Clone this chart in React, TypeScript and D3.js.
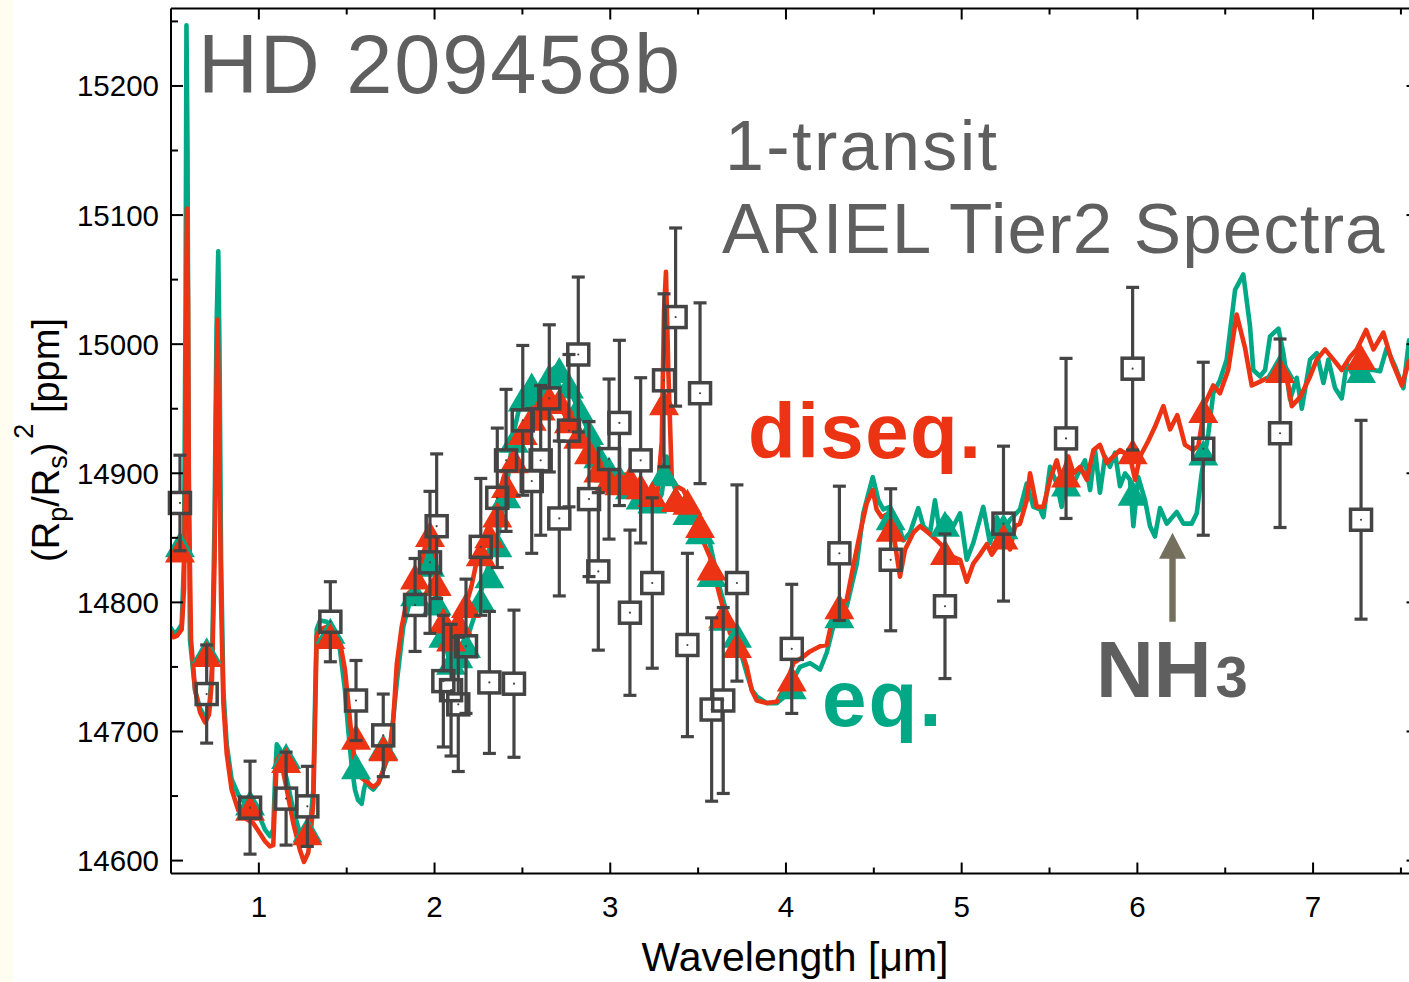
import React from "react";
import * as d3 from "d3";

// Canvas and plot frame
const WIDTH = 1409;
const HEIGHT = 982;
const PLOT = { left: 171, right: 1418.5, top: 8.5, bottom: 873.5 };

const X_DOMAIN: [number, number] = [0.5, 7.6];
const Y_DOMAIN: [number, number] = [14590, 15260];

const xMajorTicks = [1, 2, 3, 4, 5, 6, 7];
const xMinorTicks = [1.5, 2.5, 3.5, 4.5, 5.5, 6.5, 7.5];
const yMajorTicks = [14600, 14700, 14800, 14900, 15000, 15100, 15200];
const yMinorTicks = [14650, 14750, 14850, 14950, 15050, 15150, 15250];

// Simulated 1-transit ARIEL Tier 2 observation: wavelength [um], depth [ppm], 1-sigma [ppm]
const obsWave = [
  0.551, 0.703, 0.95, 1.155, 1.276, 1.407, 1.553, 1.708, 1.889, 1.974, 2.012, 2.05, 2.094,
  2.135, 2.179, 2.263, 2.312, 2.357, 2.407, 2.452, 2.502, 2.553, 2.604, 2.653, 2.71, 2.765,
  2.818, 2.879, 2.932, 2.993, 3.052, 3.112, 3.173, 3.239, 3.306, 3.372, 3.439, 3.511, 3.577,
  3.643, 3.721, 4.033, 4.304, 4.596, 4.905, 5.238, 5.594, 5.973, 6.375, 6.812, 7.273,
];
const obsDepth = [
  14877, 14729, 14641, 14648, 14642, 14785, 14724, 14697, 14798, 14831, 14859, 14739, 14732,
  14721, 14766, 14843, 14738, 14881, 14910, 14737, 14941, 14894, 14910, 14958, 14865, 14933,
  14992, 14880, 14824, 14911, 14939, 14792, 14910, 14815, 14972, 15021, 14767, 14962, 14717,
  14724, 14815, 14764, 14838, 14833, 14797, 14861, 14927, 14981, 14919, 14931, 14864,
];
const obsError = [
  37, 38, 36, 36, 31, 31, 31, 32, 36, 55, 56, 51, 51, 52, 52, 53, 55, 54, 55, 57, 58, 56, 58,
  57, 60, 59, 60, 60, 61, 62, 64, 64, 64, 66, 67, 69, 71, 70, 71, 72, 76, 50, 52, 55, 56, 60,
  62, 63, 67, 73, 77,
];

// Models binned onto the observation grid
const eqBinned = [
  14845, 14763, 14645, 14681, 14624, 14778, 14673, 14688, 14807, 14830, 14800, 14775, 14754,
  14759, 14767, 14802, 14821, 14845, 14883, 14926, 14958, 14968, 14963, 14975, 14980, 14968,
  14951, 14932, 14914, 14903, 14897, 14890, 14882, 14879, 14900, 14880, 14870, 14855, 14822,
  14788, 14775, 14735, 14790, 14866, 14861, 14859, 14892, 14885, 14916, 14983, 14980,
];
const diseqBinned = [
  14841, 14760, 14641, 14678, 14622, 14774, 14696, 14687, 14820, 14853, 14815, 14786, 14772,
  14784, 14798, 14838, 14852, 14868, 14891, 14910, 14932, 14943, 14951, 14958, 14956, 14941,
  14929, 14917, 14903, 14895, 14893, 14896, 14890, 14884, 14955, 14880, 14878, 14860, 14827,
  14790, 14767, 14741, 14797, 14857, 14839, 14851, 14899, 14917, 14949, 14980, 14990,
];

// High-resolution model spectra: [wavelength um, depth ppm]
const eqSpectrum: [number, number][] = [
  [0.5, 14780], [0.513, 14777], [0.534, 14777], [0.561, 14783], [0.574, 14833], [0.583, 15034],
  [0.588, 15247], [0.594, 15151], [0.6, 14918], [0.608, 14771], [0.637, 14732], [0.665, 14718],
  [0.694, 14711], [0.716, 14715], [0.733, 14748], [0.748, 14864], [0.759, 15011], [0.769, 15072],
  [0.776, 14996], [0.785, 14833], [0.798, 14732], [0.817, 14690], [0.845, 14663], [0.883, 14651],
  [0.931, 14643], [0.968, 14639], [1.007, 14633], [1.035, 14624], [1.063, 14619], [1.082, 14624],
  [1.092, 14663], [1.102, 14690], [1.12, 14686], [1.137, 14674], [1.159, 14663], [1.196, 14639],
  [1.234, 14621], [1.253, 14616], [1.281, 14620], [1.297, 14635], [1.31, 14655], [1.32, 14724],
  [1.329, 14779], [1.348, 14786], [1.386, 14785], [1.424, 14779], [1.462, 14763], [1.49, 14732],
  [1.509, 14701], [1.528, 14674], [1.547, 14655], [1.564, 14647], [1.585, 14644], [1.598, 14655],
  [1.614, 14663], [1.633, 14657], [1.651, 14655], [1.68, 14660], [1.708, 14670], [1.746, 14684],
  [1.785, 14738], [1.822, 14781], [1.86, 14801], [1.898, 14810], [1.936, 14830], [1.974, 14844],
  [2.012, 14824], [2.05, 14775], [2.088, 14752], [2.126, 14758], [2.173, 14767], [2.221, 14787],
  [2.268, 14810], [2.316, 14833], [2.363, 14853], [2.411, 14890], [2.448, 14930], [2.496, 14959],
  [2.543, 14967], [2.591, 14962], [2.638, 14976], [2.686, 14982], [2.724, 14976], [2.771, 14964],
  [2.828, 14947], [2.885, 14930], [2.942, 14913], [2.999, 14901], [3.056, 14896], [3.112, 14890],
  [3.169, 14881], [3.226, 14878], [3.264, 14876], [3.293, 14884], [3.321, 14913], [3.35, 14896],
  [3.378, 14884], [3.416, 14878], [3.454, 14873], [3.511, 14864], [3.568, 14845], [3.625, 14810],
  [3.682, 14783], [3.739, 14763], [3.779, 14744], [3.807, 14732], [3.835, 14727], [3.892, 14722],
  [3.949, 14722], [3.983, 14726], [4.023, 14736], [4.08, 14750], [4.137, 14753], [4.194, 14748],
  [4.232, 14761], [4.289, 14792], [4.346, 14797], [4.403, 14830], [4.44, 14869], [4.494, 14897],
  [4.526, 14879], [4.554, 14872], [4.592, 14874], [4.63, 14864], [4.668, 14848], [4.706, 14854],
  [4.753, 14873], [4.782, 14859], [4.82, 14854], [4.848, 14879], [4.876, 14854], [4.915, 14866],
  [4.953, 14859], [4.991, 14869], [5.029, 14833], [5.066, 14846], [5.123, 14874], [5.161, 14846],
  [5.2, 14866], [5.237, 14854], [5.275, 14864], [5.332, 14872], [5.37, 14892], [5.408, 14874],
  [5.446, 14872], [5.465, 14866], [5.503, 14905], [5.541, 14892], [5.569, 14874], [5.598, 14905],
  [5.636, 14892], [5.674, 14903], [5.702, 14910], [5.731, 14887], [5.759, 14918], [5.787, 14885],
  [5.816, 14913], [5.844, 14905], [5.873, 14916], [5.901, 14890], [5.93, 14900], [5.958, 14895],
  [5.977, 14859], [6.005, 14897], [6.044, 14879], [6.072, 14859], [6.1, 14851], [6.129, 14873],
  [6.167, 14861], [6.224, 14870], [6.262, 14861], [6.309, 14861], [6.338, 14869], [6.366, 14900],
  [6.404, 14931], [6.432, 14962], [6.47, 14972], [6.508, 14988], [6.556, 15042], [6.603, 15054],
  [6.641, 15014], [6.66, 14980], [6.698, 14975], [6.727, 14980], [6.755, 15006], [6.803, 15012],
  [6.831, 14993], [6.869, 14957], [6.907, 14974], [6.936, 14950], [6.983, 14988], [7.021, 14993],
  [7.059, 14970], [7.087, 14988], [7.125, 14966], [7.163, 14958], [7.192, 14985], [7.22, 14978],
  [7.249, 14983], [7.306, 14980], [7.344, 14980], [7.381, 14979], [7.419, 14997], [7.466, 14983],
  [7.514, 14966], [7.546, 15003], [7.597, 14999],
];

const diseqSpectrum: [number, number][] = [
  [0.5, 14777], [0.513, 14773], [0.534, 14774], [0.561, 14779], [0.574, 14810], [0.583, 14918],
  [0.588, 15065], [0.591, 15105], [0.597, 15034], [0.602, 14879], [0.614, 14771], [0.637, 14732],
  [0.665, 14715], [0.694, 14707], [0.716, 14713], [0.733, 14740], [0.748, 14833], [0.756, 14941],
  [0.765, 15019], [0.773, 14941], [0.785, 14802], [0.798, 14722], [0.817, 14683], [0.845, 14655],
  [0.883, 14639], [0.931, 14632], [0.968, 14629], [1.007, 14621], [1.035, 14615], [1.063, 14611],
  [1.082, 14612], [1.092, 14647], [1.102, 14678], [1.12, 14681], [1.137, 14670], [1.159, 14655],
  [1.196, 14629], [1.234, 14608], [1.257, 14599], [1.281, 14606], [1.297, 14624], [1.31, 14645],
  [1.32, 14709], [1.329, 14774], [1.348, 14779], [1.386, 14781], [1.424, 14779], [1.462, 14769],
  [1.49, 14748], [1.509, 14722], [1.528, 14696], [1.547, 14676], [1.576, 14665], [1.614, 14661],
  [1.651, 14657], [1.68, 14660], [1.708, 14670], [1.746, 14688], [1.765, 14709], [1.785, 14752],
  [1.813, 14781], [1.851, 14807], [1.898, 14813], [1.936, 14838], [1.974, 14856], [2.003, 14838],
  [2.031, 14795], [2.059, 14781], [2.098, 14773], [2.135, 14784], [2.173, 14795], [2.211, 14813],
  [2.249, 14838], [2.297, 14856], [2.344, 14870], [2.391, 14896], [2.439, 14913], [2.486, 14930],
  [2.534, 14942], [2.581, 14953], [2.638, 14959], [2.695, 14956], [2.733, 14947], [2.781, 14936],
  [2.828, 14927], [2.885, 14916], [2.932, 14901], [2.98, 14896], [3.037, 14890], [3.084, 14899],
  [3.131, 14896], [3.179, 14890], [3.226, 14884], [3.264, 14878], [3.293, 14924], [3.306, 15025],
  [3.317, 15056], [3.33, 14982], [3.35, 14896], [3.378, 14890], [3.416, 14887], [3.454, 14876],
  [3.492, 14859], [3.568, 14835], [3.625, 14804], [3.682, 14776], [3.739, 14766], [3.777, 14750],
  [3.805, 14732], [3.834, 14724], [3.89, 14722], [3.947, 14723], [4.004, 14737], [4.042, 14753],
  [4.099, 14758], [4.137, 14762], [4.194, 14766], [4.232, 14767], [4.251, 14779], [4.289, 14797],
  [4.346, 14802], [4.383, 14828], [4.422, 14854], [4.46, 14877], [4.494, 14887], [4.516, 14872],
  [4.545, 14866], [4.573, 14868], [4.611, 14854], [4.649, 14820], [4.678, 14841], [4.725, 14854],
  [4.763, 14859], [4.801, 14855], [4.858, 14848], [4.895, 14843], [4.953, 14835], [4.991, 14833],
  [5.029, 14816], [5.066, 14830], [5.104, 14837], [5.143, 14845], [5.171, 14837], [5.2, 14843],
  [5.237, 14851], [5.275, 14841], [5.304, 14859], [5.332, 14861], [5.37, 14879], [5.389, 14900],
  [5.427, 14874], [5.465, 14874], [5.503, 14895], [5.541, 14910], [5.569, 14895], [5.607, 14913],
  [5.636, 14900], [5.674, 14905], [5.712, 14895], [5.75, 14918], [5.787, 14922], [5.826, 14908],
  [5.863, 14913], [5.901, 14918], [5.958, 14913], [5.987, 14895], [6.015, 14913], [6.062, 14925],
  [6.1, 14936], [6.148, 14952], [6.186, 14934], [6.227, 14945], [6.271, 14922], [6.318, 14918],
  [6.347, 14921], [6.385, 14954], [6.432, 14968], [6.47, 14962], [6.517, 14980], [6.565, 15023],
  [6.613, 14997], [6.651, 14968], [6.698, 14971], [6.755, 14975], [6.812, 14978], [6.85, 14975],
  [6.879, 14952], [6.926, 14959], [6.983, 14975], [7.021, 14988], [7.068, 14996], [7.116, 14988],
  [7.163, 14980], [7.21, 14990], [7.249, 14996], [7.302, 15011], [7.344, 14996], [7.4, 15009],
  [7.448, 14987], [7.505, 14968], [7.546, 14987], [7.597, 14990],
];

// NH3 feature arrow: wavelength, tail depth, tip depth
const nh3Arrow = { wave: 6.2, from: 14785, to: 14854 };

const COLORS = {
  eq: "#00a886",
  diseq: "#ec3414",
  obs: "#444444",
  label: "#5f5f5f",
  arrow: "#756f5e",
};

const FONT = "'Liberation Sans', Arial, Helvetica, sans-serif";

export default function App() {
  const x = d3.scaleLinear().domain(X_DOMAIN).range([PLOT.left, PLOT.right]);
  const y = d3.scaleLinear().domain(Y_DOMAIN).range([PLOT.bottom, PLOT.top]);

  const line = d3
    .line<[number, number]>()
    .x((d) => x(d[0]))
    .y((d) => y(d[1]));

  const triW = 30;
  const triH = 26;
  const triangle = (wv: number, val: number) => {
    const cx = x(wv);
    const cy = y(val);
    return `${cx},${cy - triH / 2} ${cx + triW / 2},${cy + triH / 2} ${cx - triW / 2},${cy + triH / 2}`;
  };

  const sq = 21;
  const cap = 13;

  return (
    <>
      <style>{"body{margin:0;background:#fff}"}</style>
      <svg
        width={WIDTH}
        height={HEIGHT}
        style={{ display: "block", position: "absolute", left: 0, top: 0 }}
        fontFamily={FONT}
      >
        <rect x={0} y={0} width={WIDTH} height={HEIGHT} fill="#ffffff" />
        <rect x={0} y={0} width={13} height={HEIGHT} fill="#fffdf0" />
        <defs>
          <clipPath id="plot-area">
            <rect
              x={PLOT.left}
              y={PLOT.top}
              width={PLOT.right - PLOT.left}
              height={PLOT.bottom - PLOT.top}
            />
          </clipPath>
        </defs>

        {/* model spectra */}
        <g clipPath="url(#plot-area)" fill="none" strokeLinejoin="round" strokeLinecap="round">
          <path d={line(eqSpectrum) || ""} stroke={COLORS.eq} strokeWidth={4.6} />
          <path d={line(diseqSpectrum) || ""} stroke={COLORS.diseq} strokeWidth={4.6} />
        </g>

        {/* binned models */}
        <g>
          {obsWave.map((wv, i) => (
            <polygon key={`eq${i}`} points={triangle(wv, eqBinned[i])} fill={COLORS.eq} />
          ))}
          {obsWave.map((wv, i) => (
            <polygon key={`dq${i}`} points={triangle(wv, diseqBinned[i])} fill={COLORS.diseq} />
          ))}
        </g>

        {/* observation with error bars */}
        <g stroke={COLORS.obs} strokeWidth={3.2} fill="none">
          {obsWave.map((wv, i) => {
            const cx = x(wv);
            const cy = y(obsDepth[i]);
            const top = y(obsDepth[i] + obsError[i]);
            const bot = y(obsDepth[i] - obsError[i]);
            return (
              <g key={`o${i}`}>
                <line x1={cx} x2={cx} y1={top} y2={cy - sq / 2} />
                <line x1={cx} x2={cx} y1={cy + sq / 2} y2={bot} />
                <line x1={cx - cap / 2} x2={cx + cap / 2} y1={top} y2={top} />
                <line x1={cx - cap / 2} x2={cx + cap / 2} y1={bot} y2={bot} />
                <rect x={cx - sq / 2} y={cy - sq / 2} width={sq} height={sq} strokeWidth={3.5} />
                <circle cx={cx} cy={cy} r={1.1} fill={COLORS.obs} stroke="none" />
              </g>
            );
          })}
        </g>

        {/* axes frame */}
        <g stroke="#000" strokeWidth={2} fill="none">
          <line x1={PLOT.left} x2={PLOT.left} y1={PLOT.top} y2={PLOT.bottom} />
          <line x1={PLOT.right} x2={PLOT.right} y1={PLOT.top} y2={PLOT.bottom} />
          <line x1={PLOT.left} x2={PLOT.right} y1={PLOT.top} y2={PLOT.top} />
          <line x1={PLOT.left} x2={PLOT.right} y1={PLOT.bottom} y2={PLOT.bottom} />
          {xMajorTicks.map((t) => (
            <g key={`xt${t}`}>
              <line x1={x(t)} x2={x(t)} y1={PLOT.bottom} y2={PLOT.bottom - 11} />
              <line x1={x(t)} x2={x(t)} y1={PLOT.top} y2={PLOT.top + 11} />
            </g>
          ))}
          {xMinorTicks.map((t) => (
            <g key={`xm${t}`}>
              <line x1={x(t)} x2={x(t)} y1={PLOT.bottom} y2={PLOT.bottom - 6} />
              <line x1={x(t)} x2={x(t)} y1={PLOT.top} y2={PLOT.top + 6} />
            </g>
          ))}
          {yMajorTicks.map((t) => (
            <g key={`yt${t}`}>
              <line x1={PLOT.left} x2={PLOT.left + 12} y1={y(t)} y2={y(t)} />
              <line x1={PLOT.right} x2={PLOT.right - 12} y1={y(t)} y2={y(t)} />
            </g>
          ))}
          {yMinorTicks.map((t) => (
            <g key={`ym${t}`}>
              <line x1={PLOT.left} x2={PLOT.left + 7} y1={y(t)} y2={y(t)} />
              <line x1={PLOT.right} x2={PLOT.right - 7} y1={y(t)} y2={y(t)} />
            </g>
          ))}
        </g>

        {/* tick labels */}
        <g fontSize={29.5} fill="#000">
          {xMajorTicks.map((t) => (
            <text key={`xl${t}`} x={x(t)} y={917} textAnchor="middle">
              {t}
            </text>
          ))}
          {yMajorTicks.map((t) => (
            <text key={`yl${t}`} x={159} y={y(t) + 10.5} textAnchor="end">
              {t}
            </text>
          ))}
        </g>

        {/* axis titles */}
        <text x={795} y={971} fontSize={41} textAnchor="middle" fill="#000">
          Wavelength [μm]
        </text>
        <text
          transform="translate(59,440) rotate(-90)"
          fontSize={38}
          textAnchor="middle"
          fill="#000"
        >
          (R<tspan fontSize={27} dy={8}>p</tspan>
          <tspan dy={-8}>/R</tspan>
          <tspan fontSize={27} dy={8}>s</tspan>
          <tspan dy={-8}>)</tspan>
          <tspan fontSize={27} dy={-26} dx={4}>2</tspan>
          <tspan dy={26}> [ppm]</tspan>
        </text>

        {/* annotations */}
        <text x={198} y={93} fontSize={83} letterSpacing={1.8} fill={COLORS.label}>
          HD 209458b
        </text>
        <text x={725} y={170} fontSize={70} letterSpacing={2.4} fill={COLORS.label}>
          1-transit
        </text>
        <text x={722} y={253} fontSize={71} letterSpacing={1} fill={COLORS.label}>
          ARIEL Tier2 Spectra
        </text>
        <text x={748} y={458} fontSize={78} letterSpacing={1.5} fontWeight="bold" fill={COLORS.diseq}>
          diseq.
        </text>
        <text x={822} y={726} fontSize={80} letterSpacing={2} fontWeight="bold" fill={COLORS.eq}>
          eq.
        </text>
        <text x={1096} y={697} fontSize={80} fontWeight="bold" fill={COLORS.label}>
          NH<tspan fontSize={58} dx={4}>3</tspan>
        </text>
        <g fill={COLORS.arrow} stroke="none">
          <rect
            x={x(nh3Arrow.wave) - 3.2}
            y={y(nh3Arrow.to) + 24}
            width={6.4}
            height={y(nh3Arrow.from) - y(nh3Arrow.to) - 24}
          />
          <polygon
            points={`${x(nh3Arrow.wave)},${y(nh3Arrow.to)} ${x(nh3Arrow.wave) + 13.5},${
              y(nh3Arrow.to) + 26
            } ${x(nh3Arrow.wave) - 13.5},${y(nh3Arrow.to) + 26}`}
          />
        </g>
      </svg>
    </>
  );
}
